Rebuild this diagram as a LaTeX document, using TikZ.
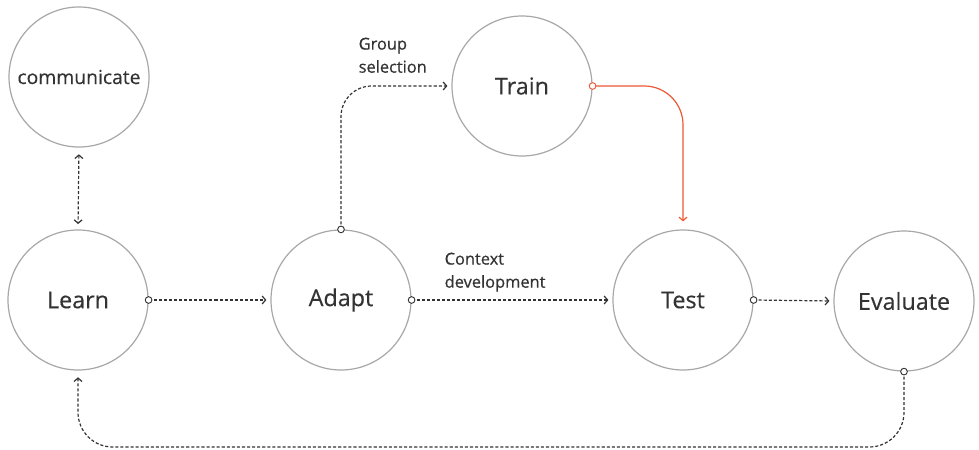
\documentclass[tikz,border=0pt]{standalone}
\usepackage{fontspec}
\setmainfont{Open Sans}
\newfontfamily\labelfont[FakeBold=0.6]{Open Sans}
\newfontfamily\stagefont[FakeBold=0.3]{Open Sans}
\usetikzlibrary{arrows.meta}
\definecolor{ink}{HTML}{333333}
\definecolor{rim}{HTML}{A8A8A8}
\definecolor{accent}{HTML}{EC5834}
\tikzset{
  barb/.tip={Straight Barb[length=2.6pt,width=6pt,line width=0.9pt]},
  stage/.style={circle, draw=rim, line width=0.9pt, fill=white, inner sep=0pt,
    minimum size=105pt, text=ink, font=\stagefont\fontsize{17.5}{20}\selectfont},
  smallstage/.style={stage, font=\stagefont\fontsize{14.5}{18}\selectfont},
  flow/.style={draw=ink, line width=0.9pt, dash pattern=on 2.3pt off 1.5pt,
    -barb, shorten >=3pt},
  hotflow/.style={draw=accent, line width=0.9pt, -barb, shorten >=6pt},
  port/.style={circle, draw=ink, fill=white, solid, line width=0.7pt, inner sep=0pt, minimum size=5pt},
  hotport/.style={port, draw=accent},
  note/.style={text=ink, font=\labelfont\fontsize{12.3}{17.3}\selectfont, align=left, anchor=north west}
}
\begin{document}
\begin{tikzpicture}[x=0.75pt, y=-0.75pt]
\useasboundingbox (0,0) rectangle (979,450);

\node[smallstage] (comm) at (79,77) {communicate};
\node[stage] (learn) at (78,300) {Learn};
\node[stage] (adapt) at (341,300) {Adapt};
\node[stage] (train) at (522,86) {Train};
\node[stage] (test) at (683,300) {Test};
\node[stage] (eval) at (904,301) {Evaluate};

\coordinate (base) at (500,447);

% two-way link between communicate and Learn
\draw[flow, barb-barb, shorten <=5pt, shorten >=4pt] (comm.south) -- (learn.north);

% main chain
\draw[flow] (learn.east) node[port]{} -- (adapt.west);
\draw[flow] (adapt.east) node[port]{} -- (test.west);
\draw[flow] (test.east) node[port]{} -- (eval.west);

% branch through Train
\draw[flow, rounded corners=23pt] (adapt.north) node[port]{} |- (train.west);
\draw[hotflow, rounded corners=29pt] (train.east) node[hotport]{} -| (test.north);

% feedback loop back to Learn
\draw[flow, rounded corners=26pt, shorten >=5pt] (eval.south) node[port]{} |- (base) -| (learn.south);

% edge labels
\node[note] (grp) at (354,33) {Group\\selection};
\node[note] (ctx) at (440,248) {Context\\development};
\end{tikzpicture}
\end{document}
